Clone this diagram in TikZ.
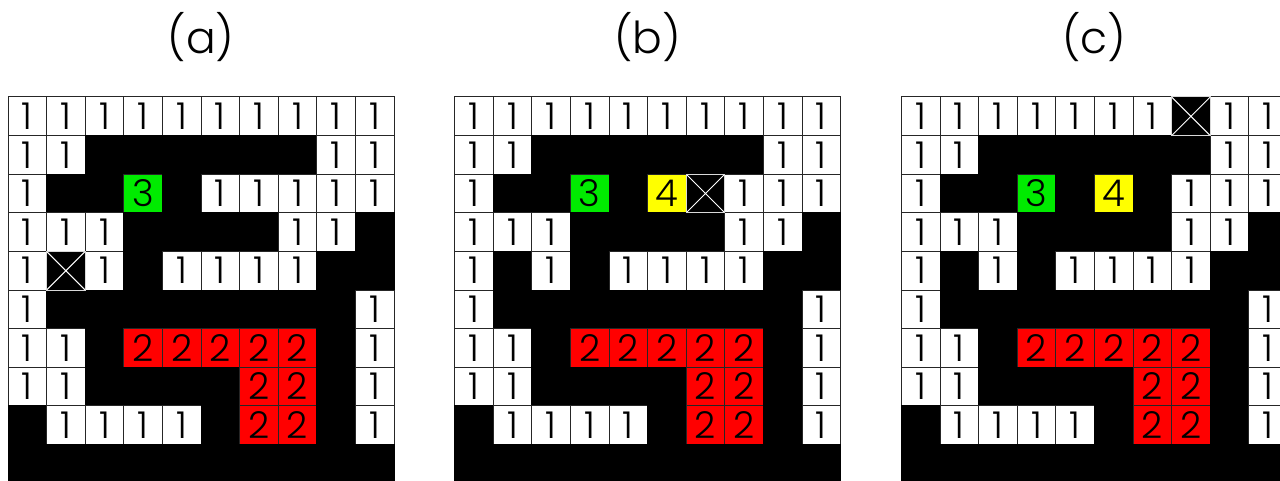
\documentclass[tikz,border=0pt]{standalone}
\usepackage{fontspec}
\setmainfont{Poppins}[UprightFont=* Light]

\definecolor{cellgreen}{RGB}{0,235,0}
\definecolor{cellyellow}{RGB}{255,255,0}
\definecolor{cellred}{RGB}{255,0,0}

% cell codes: w = free (1), k = wall, g = 3, y = 4, r = 2, x = crossed
\def\labw{1}
\def\labk{}
\def\labg{3}
\def\laby{4}
\def\labr{2}
\def\labx{}

\tikzset{
    cellbox/.style={minimum size=38.6pt, inner sep=0pt, draw=black!85,
        line width=1pt, font=\fontsize{37}{37}\selectfont},
    cellw/.style={fill=white},
    cellk/.style={fill=black, draw=black},
    cellg/.style={fill=cellgreen},
    celly/.style={fill=cellyellow},
    cellr/.style={fill=cellred},
    cellx/.style={fill=black, draw=black},
    crossbox/.style={minimum size=38.6pt, inner sep=0pt, fill=black,
        draw=black!15, line width=1pt,
        path picture={
            \draw[white, line width=1pt]
                (path picture bounding box.north west) -- (path picture bounding box.south east)
                (path picture bounding box.south west) -- (path picture bounding box.north east);
        }},
    paneltitle/.style={font=\fontsize{44}{44}\selectfont}
}

% #1 name, #2 left edge, #3 rows top to bottom
\newcommand{\drawpanel}[3]{%
    \foreach \row [count=\j from 0] in {#3} {
        \foreach \c [count=\i from 0] in \row {
            \node[cellbox, cell\c] (#1-\j-\i) at ({#2+38.6*\i+19.3}, {97+38.6*\j+19.3})
                {\csname lab\c\endcsname};
        }
    }
}

\begin{document}
\begin{tikzpicture}[x=1pt, y=-1pt]
    \useasboundingbox (0,0) rectangle (1280,481);
    \clip (0,0) rectangle (1280,481);

    \drawpanel{a}{8}{
        {w,w,w,w,w,w,w,w,w,w},
        {w,w,k,k,k,k,k,k,w,w},
        {w,k,k,g,k,w,w,w,w,w},
        {w,w,w,k,k,k,k,w,w,k},
        {w,x,w,k,w,w,w,w,k,k},
        {w,k,k,k,k,k,k,k,k,w},
        {w,w,k,r,r,r,r,r,k,w},
        {w,w,k,k,k,k,r,r,k,w},
        {k,w,w,w,w,k,r,r,k,w},
        {k,k,k,k,k,k,k,k,k,k}}
    \drawpanel{b}{454.6}{
        {w,w,w,w,w,w,w,w,w,w},
        {w,w,k,k,k,k,k,k,w,w},
        {w,k,k,g,k,y,x,w,w,w},
        {w,w,w,k,k,k,k,w,w,k},
        {w,k,w,k,w,w,w,w,k,k},
        {w,k,k,k,k,k,k,k,k,w},
        {w,w,k,r,r,r,r,r,k,w},
        {w,w,k,k,k,k,r,r,k,w},
        {k,w,w,w,w,k,r,r,k,w},
        {k,k,k,k,k,k,k,k,k,k}}
    \drawpanel{c}{901.4}{
        {w,w,w,w,w,w,w,x,w,w},
        {w,w,k,k,k,k,k,k,w,w},
        {w,k,k,g,k,y,k,w,w,w},
        {w,w,w,k,k,k,k,w,w,k},
        {w,k,w,k,w,w,w,w,k,k},
        {w,k,k,k,k,k,k,k,k,w},
        {w,w,k,r,r,r,r,r,k,w},
        {w,w,k,k,k,k,r,r,k,w},
        {k,w,w,w,w,k,r,r,k,w},
        {k,k,k,k,k,k,k,k,k,k}}

    % crossed cells on top
    \node[crossbox] (a-cross) at (a-4-1) {};
    \node[crossbox] (b-cross) at (b-2-6) {};
    \node[crossbox] (c-cross) at (c-0-7) {};

    \node[paneltitle] (ta) at (201,37) {(a)};
    \node[paneltitle] (tb) at (647.6,37) {(b)};
    \node[paneltitle] (tc) at (1094.4,37) {(c)};
\end{tikzpicture}
\end{document}
